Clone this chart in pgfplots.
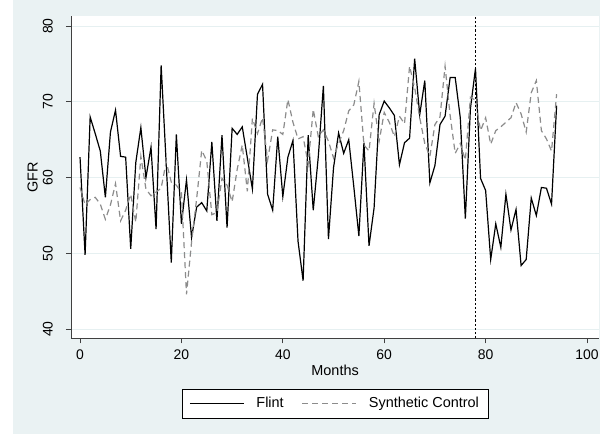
\documentclass[border=0pt]{standalone}
\usepackage{pgfplots}
\pgfplotsset{compat=1.18}
\usepackage{fontspec}
\setmainfont{Liberation Sans}
\definecolor{bgc}{RGB}{234,242,243}
\definecolor{gridc}{RGB}{230,240,241}
\definecolor{synth}{RGB}{140,140,140}
\pgfplotstableread{
m flint synth
0 62.7 58.7
1 49.8 56.4
2 68.0 57.1
3 65.8 57.4
4 63.5 56.5
5 57.4 54.5
6 66.0 56.4
7 68.9 59.2
8 62.8 54.3
9 62.7 55.7
10 50.6 57.8
11 62.0 54.1
12 66.6 62.8
13 60.0 58.5
14 64.0 57.6
15 53.2 58.1
16 74.8 58.6
17 61.8 62.1
18 48.8 59.4
19 65.7 59.0
20 53.9 58.0
21 59.7 44.6
22 52.1 51.5
23 56.1 57.2
24 56.7 63.6
25 55.6 62.2
26 64.7 55.1
27 54.3 55.4
28 65.6 59.9
29 53.4 59.0
30 66.5 56.8
31 65.7 61.1
32 66.7 64.3
33 62.6 58.2
34 58.5 67.8
35 71.0 65.8
36 72.3 67.9
37 57.8 62.3
38 55.7 66.3
39 65.4 66.2
40 57.5 65.7
41 62.7 70.3
42 64.9 67.3
43 51.6 65.1
44 46.4 65.4
45 65.6 61.8
46 55.7 69.0
47 62.8 65.4
48 72.1 66.3
49 51.9 64.8
50 61.3 62.6
51 65.9 64.5
52 63.2 66.2
53 65.0 68.8
54 58.8 69.6
55 52.3 72.7
56 64.6 64.3
57 51.0 63.5
58 56.0 69.8
59 68.3 64.8
60 70.1 68.6
61 69.2 67.3
62 68.2 65.4
63 61.7 68.1
64 64.6 67.1
65 65.2 74.7
66 75.7 71.9
67 68.3 67.9
68 72.8 64.5
69 59.3 62.8
70 61.6 67.0
71 67.0 68.0
72 68.1 74.7
73 73.2 68.2
74 73.2 63.2
75 67.9 64.5
76 54.6 62.3
77 69.1 70.6
78 74.4 70.2
79 59.9 66.2
80 58.3 67.9
81 49.2 64.4
82 53.9 66.2
83 50.8 66.7
84 57.8 67.3
85 53.1 67.9
86 55.8 69.9
87 48.4 68.4
88 49.2 66.0
89 57.3 71.2
90 55.0 72.8
91 58.7 66.2
92 58.6 65.1
93 56.5 63.5
94 69.5 71.0
}\datatable
\begin{document}
\begin{tikzpicture}
\path[use as bounding box] (-71bp,-95.7bp) rectangle (529bp,338.3bp);
\fill[white] (-71bp,-95.7bp) rectangle (529bp,338.3bp);
\fill[bgc] (-58.4bp,-95.7bp) rectangle (529bp,338.3bp);
\begin{axis}[
  at={(0,0)}, anchor=south west,
  x=5.07bp, y=7.58bp,
  xmin=-1.78, xmax=102.4, ymin=38.8, ymax=81.35,
  axis background/.style={fill=white},
  axis x line*=bottom, axis y line*=left,
  axis line style={black!75, line width=0.8bp, -},
  xtick={0,20,40,60,80,100},
  ytick={40,50,60,70,80},
  tick align=outside,
  major tick length=5bp,
  tick style={black!75, line width=0.8bp},
  ymajorgrids,
  grid style={gridc, line width=1bp},
  /pgf/number format/assume math mode=true,
  tick label style={font=\fontsize{14}{16}\selectfont},
  xticklabel style={inner sep=0pt, anchor=north, yshift=-6bp},
  yticklabel style={xshift=-13bp, rotate=90, inner sep=0pt, anchor=south},
  xlabel={Months},
  ylabel={GFR},
  every axis x label/.style={at={(axis description cs:0.5,0)}, anchor=north, inner sep=0pt, yshift=-27bp, font=\fontsize{14.5}{16}\selectfont},
  every axis y label/.style={at={(axis description cs:0,0.5)}, xshift=-33bp, rotate=90, anchor=south, inner sep=0pt, font=\fontsize{14.5}{16}\selectfont},
  legend columns=2,
  legend style={at={(0.5,0)}, anchor=north, yshift=-50.4bp, draw=black, line width=0.6bp,
    font=\fontsize{14.5}{16}\selectfont, inner xsep=7bp, inner ysep=6.5bp,
    /tikz/every odd column/.append style={column sep=10bp},
    /tikz/every even column/.append style={column sep=16bp}},
  legend image code/.code={\draw[#1] (0bp,0bp) -- (54bp,0bp);},
  clip=false,
]
\addplot[black, line width=1.2bp] table[x=m, y=flint] {\datatable};
\addlegendentry{Flint}
\addplot[synth, line width=1.2bp, dash pattern=on 6bp off 4bp] table[x=m, y=synth] {\datatable};
\addlegendentry{Synthetic Control}
\addplot[black, line width=1.3bp, dash pattern=on 2.2bp off 2bp, forget plot] coordinates {(78,38.8) (78,81.35)};
\end{axis}
\end{tikzpicture}
\end{document}
